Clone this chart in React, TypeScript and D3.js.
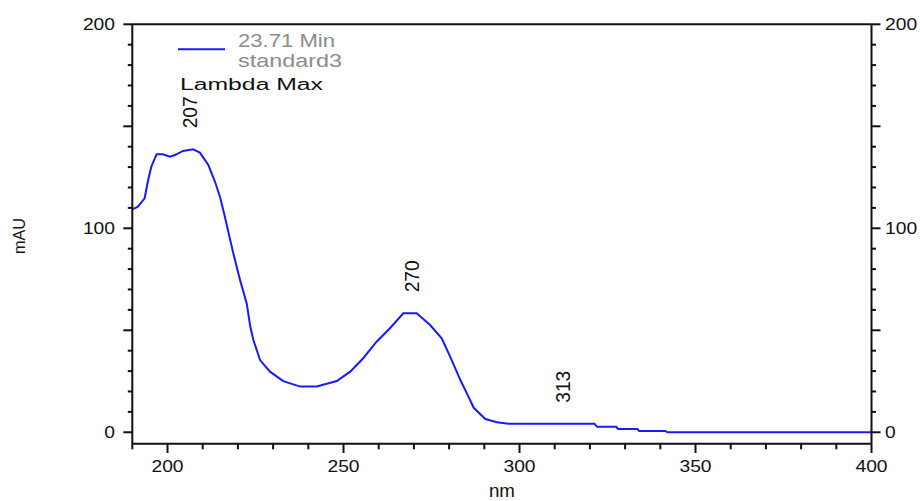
import React from "react";
import * as d3 from "d3";

// ---- data ----
const wavelengths = [
  190, 191.6, 193.5, 194.5, 195.4, 196.9, 198.7, 200.7, 202.1, 204.4, 207.3, 209.2,
  211.6, 213.5, 214.9, 216.3, 217.7, 218.7, 220.6, 222.5, 223.5, 224.4, 226.3, 229.1,
  232.9, 237.7, 242.4, 248.1, 251.9, 255.6, 259.4, 263.2, 267, 270.8, 274.6, 277.9,
  280.3, 283.2, 285.5, 287, 290.3, 293.6, 296.9, 321.3, 322, 327.5, 328, 333.5, 334,
  341.5, 342, 400,
];
const absorbance = [
  109.3, 110.6, 114.7, 123.7, 130.2, 136.3, 136.3, 135.1, 135.9, 137.9, 138.7, 137.1,
  131, 122.8, 115.5, 105.7, 95.1, 87.7, 74.7, 63.2, 52, 45.2, 35.4, 29.7,
  25.1, 22.4, 22.4, 25.1, 29.7, 36.3, 44.4, 51, 58.3, 58.3, 52.6, 46.1,
  37.1, 25.6, 17.5, 12, 6.5, 4.9, 4.2, 4.2, 2.7, 2.7, 1.6, 1.6, 0.6,
  0.6, 0, 0,
];
const peakWavelengths = [207, 270, 313];
const peakValues = [138.7, 58.3, 4.2];
const xTickLabels = [200, 250, 300, 350, 400];
const yTickLabels = [0, 100, 200];
const legendTime = "23.71 Min";
const legendName = "standard3";
const annotationTitle = "Lambda Max";
const xTitle = "nm";
const yTitle = "mAU";

const X_DOMAIN: [number, number] = [190, 400];
const Y_DOMAIN: [number, number] = [-5.6, 200];

const FONT = "'Liberation Sans', Arial, sans-serif";

export default function App() {
  const x = d3.scaleLinear().domain(X_DOMAIN).range([132.3, 871.5]);
  const y = d3.scaleLinear().domain(Y_DOMAIN).range([443.7, 24.3]);

  const pts: [number, number][] = wavelengths.map((w, i) => [w, absorbance[i]]);
  const line = d3
    .line<[number, number]>()
    .x((d) => x(d[0]))
    .y((d) => y(d[1]))
    .curve(d3.curveLinear);

  const left = x(X_DOMAIN[0]);
  const right = x(X_DOMAIN[1]);
  const top = y(200);
  const bottom = y(Y_DOMAIN[0]);

  const yTicks = d3.range(0, 201, 10);
  const xTicks = d3.range(190, 401, 10);
  const axisColor = "#111";

  const digitW = 10.7;

  return (
    <svg
      width={920}
      height={501}
      style={{ position: "absolute", left: 0, top: 0, background: "#fff" }}
      fontFamily={FONT}
    >
      {/* curve */}
      <path d={line(pts) || ""} fill="none" stroke="#1a1aff" strokeWidth={2} />

      {/* frame lines */}
      <line x1={left} x2={right} y1={top} y2={top} stroke={axisColor} strokeWidth={2} />
      <line x1={left} x2={right} y1={bottom} y2={bottom} stroke={axisColor} strokeWidth={2} />
      <line x1={left} x2={left} y1={top} y2={bottom} stroke={axisColor} strokeWidth={2} />
      <line x1={right} x2={right} y1={top} y2={bottom} stroke={axisColor} strokeWidth={2} />

      {/* y ticks left and right */}
      {yTicks.map((t) => {
        const major = t % 50 === 0;
        const len = major ? 9 : 4.5;
        return (
          <g key={"yt" + t}>
            <line x1={left - len} x2={left} y1={y(t)} y2={y(t)} stroke={axisColor} strokeWidth={2} />
            <line x1={right} x2={right + len} y1={y(t)} y2={y(t)} stroke={axisColor} strokeWidth={2} />
          </g>
        );
      })}
      {yTickLabels.map((t) => (
        <g key={"yl" + t}>
          <text
            x={115}
            y={y(t)}
            dy="0.36em"
            textAnchor="end"
            fontSize={16}
            fill="#111"
            textLength={String(t).length * digitW}
            lengthAdjust="spacingAndGlyphs"
          >
            {t}
          </text>
          <text
            x={885}
            y={y(t)}
            dy="0.36em"
            textAnchor="start"
            fontSize={16}
            fill="#111"
            textLength={String(t).length * digitW}
            lengthAdjust="spacingAndGlyphs"
          >
            {t}
          </text>
        </g>
      ))}

      {/* x ticks */}
      {xTicks.map((t) => {
        const major = t % 50 === 0;
        const len = major ? 9.3 : 5.6;
        return (
          <line key={"xt" + t} x1={x(t)} x2={x(t)} y1={bottom} y2={bottom + len} stroke={axisColor} strokeWidth={2} />
        );
      })}
      {xTickLabels.map((t) => (
        <text
          key={"xl" + t}
          x={x(t)}
          y={466.5}
          dy="0.36em"
          textAnchor="middle"
          fontSize={16}
          fill="#111"
          textLength={String(t).length * digitW}
          lengthAdjust="spacingAndGlyphs"
        >
          {t}
        </text>
      ))}

      {/* axis titles */}
      <text x={(left + right) / 2} y={497} textAnchor="middle" fontSize={18} fill="#111" textLength={26} lengthAdjust="spacingAndGlyphs">
        {xTitle}
      </text>
      <text
        transform="translate(19,236) rotate(-90)"
        textAnchor="middle"
        dy="0.36em"
        fontSize={17}
        fill="#111"
        textLength={36}
        lengthAdjust="spacingAndGlyphs"
      >
        {yTitle}
      </text>

      {/* legend */}
      <line x1={178} x2={225} y1={49.3} y2={49.3} stroke="#1a1aff" strokeWidth={2} />
      <text x={238} y={46.7} fontSize={18} fill="#8c8c8c" textLength={97} lengthAdjust="spacingAndGlyphs">
        {legendTime}
      </text>
      <text x={238} y={66.7} fontSize={18} fill="#8c8c8c" textLength={104} lengthAdjust="spacingAndGlyphs">
        {legendName}
      </text>
      <text x={180} y={90} fontSize={16} fill="#111" textLength={143} lengthAdjust="spacingAndGlyphs">
        {annotationTitle}
      </text>

      {/* peak labels */}
      {peakWavelengths.map((w, i) => (
        <text
          key={"pk" + w}
          transform={`translate(${x(w) - 2.5},${y(peakValues[i]) - 21}) rotate(-90)`}
          textAnchor="start"
          dy="0.36em"
          fontSize={21}
          fill="#111"
          textLength={32}
          lengthAdjust="spacingAndGlyphs"
        >
          {w}
        </text>
      ))}
    </svg>
  );
}
